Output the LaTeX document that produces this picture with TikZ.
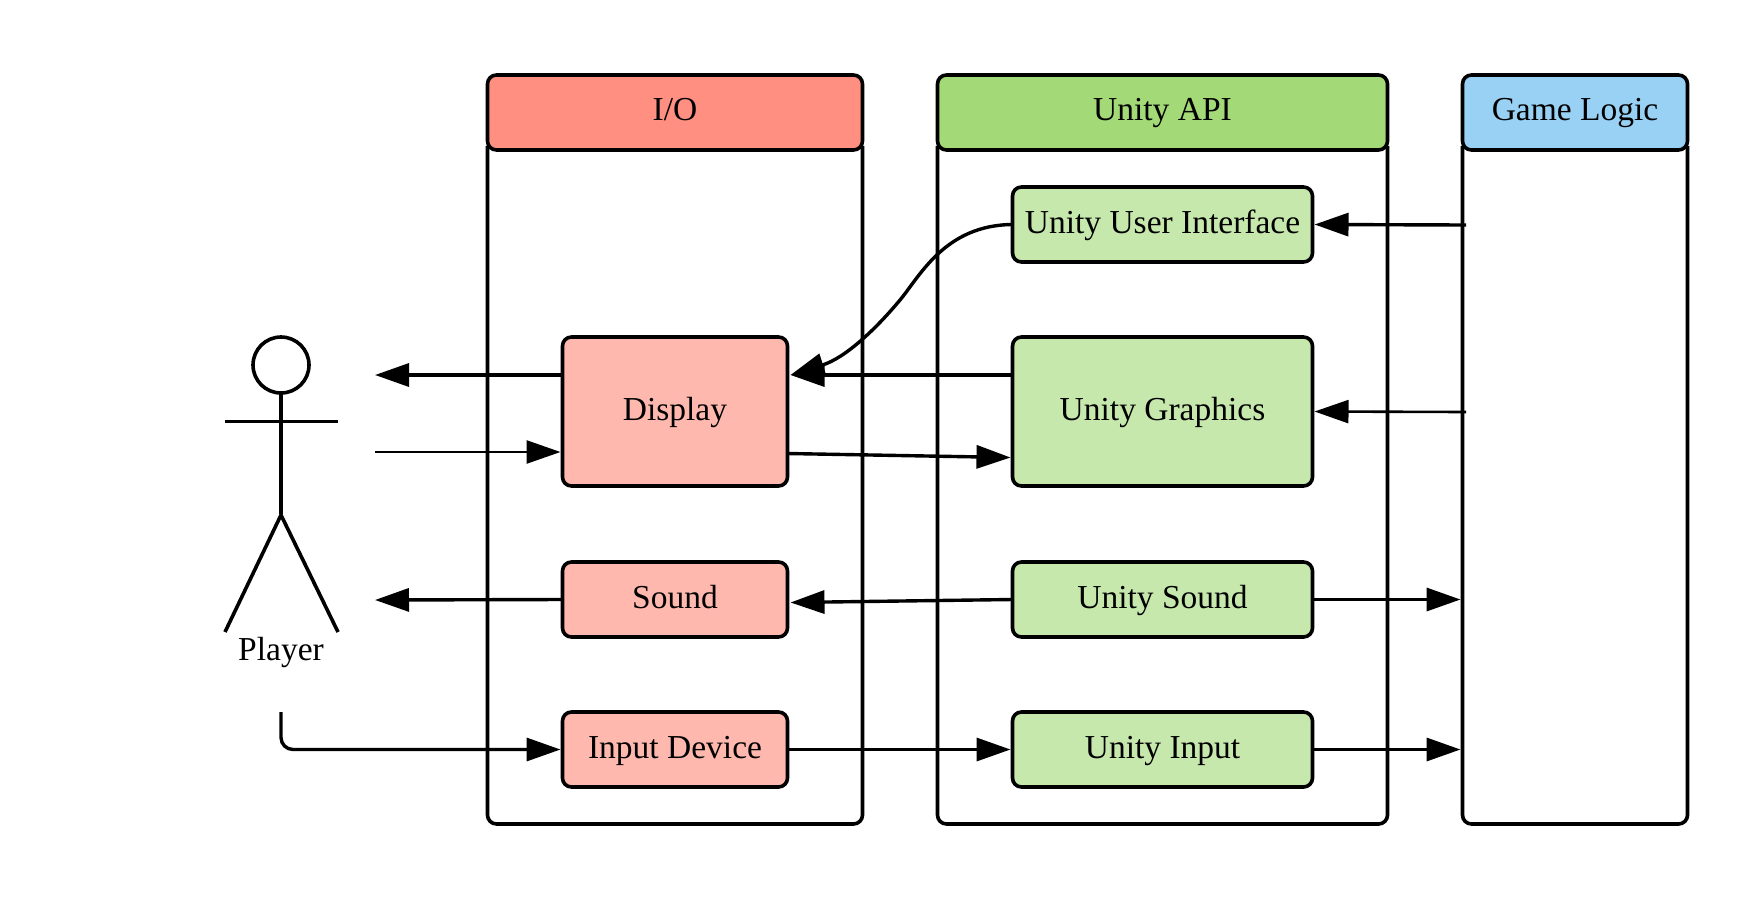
\documentclass[tikz,border=0pt]{standalone}
\usepackage{fontspec}
\setmainfont{Liberation Serif}
\usetikzlibrary{arrows.meta,calc}
\definecolor{ioHead}{HTML}{FF8F80}
\definecolor{ioBox}{HTML}{FFB8AE}
\definecolor{apiHead}{HTML}{A3D977}
\definecolor{apiBox}{HTML}{C7E8AC}
\definecolor{logicHead}{HTML}{99D1F5}
\tikzset{
  label text/.style={font=\fontsize{33.5}{38}\selectfont,text=black,text height=23pt,text depth=7pt},
  base/.style={label text,draw=black,line width=3.6pt,rounded corners=9pt,inner sep=0pt,outer sep=0pt,anchor=center},
  lane/.style={inner sep=0pt,outer sep=0pt,fill=white,minimum height=674pt},
  lane edge/.style={draw=black,line width=3.6pt,rounded corners=9pt},
  laneHead/.style={base,minimum height=75pt},
  step text/.style={text height=24.5pt,text depth=6pt},
  ioStep/.style={base,step text,fill=ioBox,minimum width=225pt},
  apiStep/.style={base,step text,fill=apiBox,minimum width=300pt},
  arr/.style={draw=black,line width=3.4pt,-{Triangle[length=34pt,width=23pt]}},
  thin arr/.style={arr,line width=2.6pt},
  stick/.style={draw=black,line width=3.6pt},
}
\begin{document}
\begin{tikzpicture}[x=1pt,y=-1pt]
\useasboundingbox (0,0) rectangle (1763,900);
\fill[white] (0,0) rectangle (1763,900);
% lanes
\node[lane,minimum width=375pt] (ioBody) at (675,487) {};
\node[lane,minimum width=450pt] (apiBody) at (1162.5,487) {};
\node[lane,minimum width=225pt] (logicBody) at (1575,487) {};
\draw[lane edge] ([yshift=4pt]ioBody.north west) -- (ioBody.south west) -- (ioBody.south east) -- ([yshift=4pt]ioBody.north east);
\draw[lane edge] ([yshift=4pt]apiBody.north west) -- (apiBody.south west) -- (apiBody.south east) -- ([yshift=4pt]apiBody.north east);
\draw[lane edge] ([yshift=4pt]logicBody.north west) -- (logicBody.south west) -- (logicBody.south east) -- ([yshift=4pt]logicBody.north east);
\node[laneHead,fill=ioHead,minimum width=375pt] (ioHeader) at (675,112.5) {I/O};
\node[laneHead,fill=apiHead,minimum width=450pt] (apiHeader) at (1162.5,112.5) {Unity API};
\node[laneHead,fill=logicHead,minimum width=225pt] (logicHeader) at (1575,112.5) {Game Logic};
% steps
\node[ioStep,minimum height=149pt] (display) at (675,411.5) {Display};
\node[ioStep,minimum height=75pt] (sound) at (675,599.5) {Sound};
\node[ioStep,minimum height=75pt] (input) at (675,749.5) {Input Device};
\node[apiStep,minimum height=75pt] (uui) at (1162.5,224.5) {Unity User Interface};
\node[apiStep,minimum height=149pt] (ugfx) at (1162.5,411.5) {Unity Graphics};
\node[apiStep,minimum height=75pt] (usnd) at (1162.5,599.5) {Unity Sound};
\node[apiStep,minimum height=75pt] (uinp) at (1162.5,749.5) {Unity Input};
% player
\node[draw=black,line width=3.6pt,circle,minimum size=56pt,inner sep=0pt,outer sep=0pt] (head) at (281,365) {};
\coordinate (hip) at (281,515);
\coordinate (armL) at (225,421.5);
\coordinate (armR) at (338,421.5);
\coordinate (legL) at (225,632);
\coordinate (legR) at (338,632);
\draw[stick] (head.south) -- (281,514);
\draw[stick] (armL) -- (armR);
\draw[stick] (legL) -- (hip) -- (legR);
\node[label text,inner sep=0pt] (player) at (281,652.5) {Player};
% free ends
\coordinate (eyeOut) at (375,375);
\coordinate (eyeIn) at (375,452);
\coordinate (earOut) at (375,600);
\coordinate (hand) at (281,712);
\coordinate (gameUI) at (1466,225);
\coordinate (gameGfx) at (1466,412);
% connectors
\draw[arr] (display.west |- eyeOut) -- (eyeOut);
\draw[thin arr] (eyeIn) -- ($(display.west |- eyeIn)+(-2,0)$);
\draw[arr] (sound.west) -- (earOut);
\draw[arr,rounded corners=12pt] (hand) |- ($(input.west)+(-2,0)$);
\draw[arr] (ugfx.west |- eyeOut) -- ($(display.east |- eyeOut)+(3,0)$);
\draw[arr] ([yshift=-42pt]display.east) -- ([yshift=-46pt,xshift=-2pt]ugfx.west);
\draw[arr] (uui.west) .. controls (945,225) and (920,276) .. (900,300) .. controls (875,330) and (845,358) .. ($(display.east |- eyeOut)+(3,0)$);
\draw[arr] (usnd.west) -- ([yshift=-3pt,xshift=3pt]sound.east);
\draw[arr] (input.east) -- ([xshift=-2pt]uinp.west);
\draw[arr] (gameUI) -- ([xshift=2pt]uui.east);
\draw[thin arr] (gameGfx) -- ([xshift=2pt]ugfx.east);
\draw[arr] (usnd.east) -- ([xshift=-2pt]logicBody.west |- usnd.east);
\draw[arr] (uinp.east) -- ([xshift=-2pt]logicBody.west |- uinp.east);
\end{tikzpicture}
\end{document}
